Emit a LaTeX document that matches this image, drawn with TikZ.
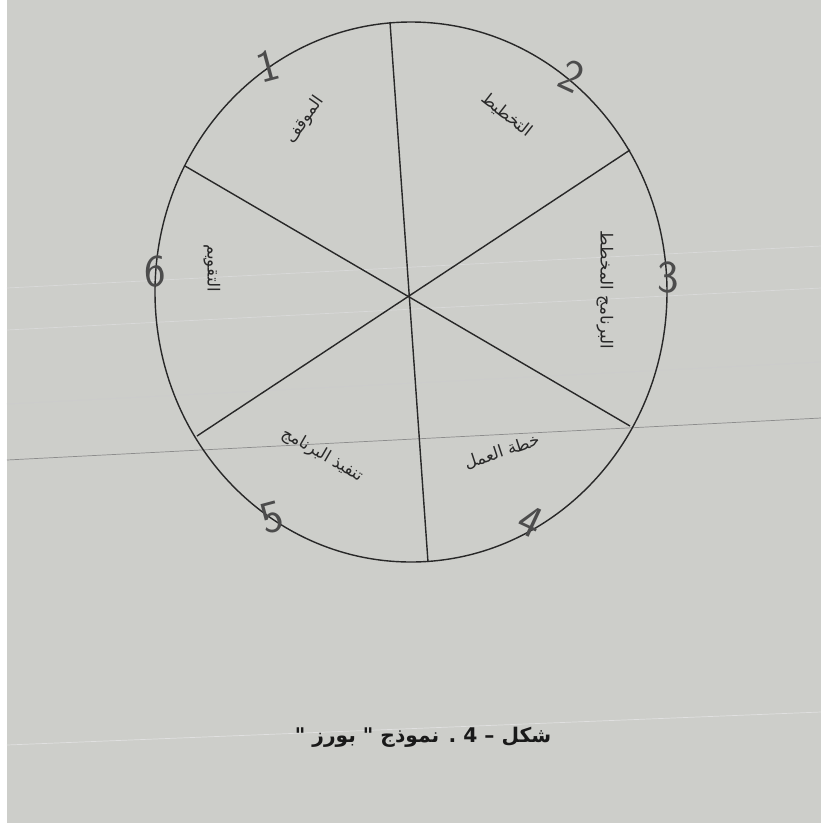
\documentclass[tikz,border=0pt]{standalone}
\usepackage{fontspec}
\newfontfamily\arabicfont[Script=Arabic]{DejaVu Sans}
\TeXXeTstate=1
\definecolor{paper}{RGB}{205,206,202}
\definecolor{pencil}{RGB}{40,40,40}

\begin{document}
\begin{tikzpicture}[x=0.02cm,y=-0.02cm,
		pen/.style={draw=pencil,line width=0.8pt},
		ruling/.style={draw=black!35,line width=0.4pt},
		sector/.style={font=\arabicfont\fontsize{9.5}{9.5}\selectfont,text=pencil,inner sep=0pt},
		digit/.style={font=\sffamily\fontsize{26}{26}\selectfont,text=black!70,inner sep=0pt},
		caption/.style={font=\arabicfont\bfseries\fontsize{11.5}{11.5}\selectfont,text=black!90,inner sep=0pt}]
			% Paper
			\fill[paper] (0,0) rectangle (821,823);
			\fill[white] (0,0) rectangle (7,823);
			\useasboundingbox (0,0) rectangle (821,823);
			
			% Faint rulings of the sheet
			\draw[ruling,draw=black!45] (7,460) -- (821,418);
			\draw[ruling,draw=black!20] (7,404) -- (821,362);
			\draw[ruling,draw=black!15] (7,330) -- (821,288);
			\draw[ruling,draw=black!15] (7,288) -- (821,246);
			\draw[ruling,draw=black!12] (7,745) -- (821,712);
			
			% Centre and end points of the three diameters
			\coordinate (O) at (410,295);
			\coordinate (top) at (390,22);
			\coordinate (bot) at (428,562);
			\coordinate (ul) at (185,166);
			\coordinate (lr) at (630,426);
			\coordinate (ur) at (630,150);
			\coordinate (ll) at (197,436);
			
			% Draw the circle
			\draw[pen] (411,292) ellipse [x radius=256, y radius=270];
			
			% Draw the diameters
			\draw[pen] (top) -- (bot);
			\draw[pen] (ul) -- (lr);
			\draw[pen] (ur) -- (ll);
			
			% Step numbers
			\node[digit,rotate=15] (n1) at (268,66) {1};
			\node[digit,rotate=-25] (n2) at (572,76) {2};
			\node[digit] (n3) at (668,278) {3};
			\node[digit,rotate=-25] (n4) at (531,521) {4};
			\node[digit,rotate=15] (n5) at (272,518) {5};
			\node[digit] (n6) at (155,272) {6};
			
			% Sector labels
			\node[sector,rotate=55] (s1) at (305,120) {\beginR الموقف\endR};
			\node[sector,rotate=-38] (s2) at (507,115) {\beginR التخطيط\endR};
			\node[sector,rotate=-90] (s3) at (605,290) {\beginR البرنامج المخطط\endR};
			\node[sector,rotate=18] (s4) at (502,452) {\beginR خطة العمل\endR};
			\node[sector,rotate=-30] (s5) at (322,455) {\beginR تنفيذ البرنامج\endR};
			\node[sector,rotate=-90] (s6) at (212,268) {\beginR التقويم\endR};
			
			% Caption
			\node[caption] (cap) at (423,737) {\beginR شكل – 4 . نموذج " بورز "\endR};
			
		\end{tikzpicture}
\end{document}
